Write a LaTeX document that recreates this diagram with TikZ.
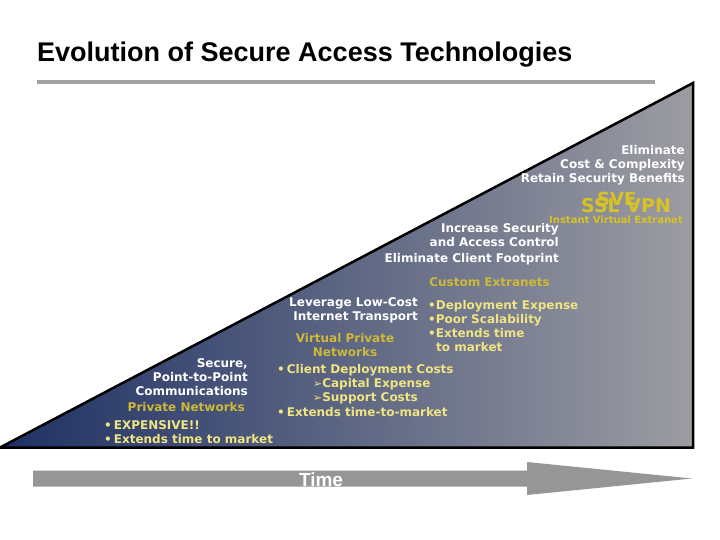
\documentclass[tikz,border=0pt]{standalone}
\usepackage{fontspec}
\setmainfont{DejaVu Sans}
\newfontfamily\titlefont{Liberation Sans}
\definecolor{navy}{RGB}{30,48,100}
\definecolor{grayR}{RGB}{156,156,162}
\definecolor{paley}{RGB}{240,228,130}
\definecolor{musty}{RGB}{205,185,55}
\definecolor{logoy}{RGB}{215,195,35}
\definecolor{arrowgray}{RGB}{150,150,150}
\definecolor{linegray}{RGB}{162,162,162}
\begin{document}
\begin{tikzpicture}[x=1pt,y=-1pt,
  txt/.style={inner sep=0pt,font=\bfseries\fontsize{12}{14}\selectfont},
  wt/.style={txt,text=white},
  yl/.style={txt,text=paley},
  ym/.style={txt,text=musty}]
\useasboundingbox (0,0) rectangle (720,540);
% title
\node[anchor=base west,inner sep=0pt,font=\titlefont\bfseries\fontsize{27}{30}\selectfont] (title) at (37,62) {Evolution of Secure Access Technologies};
\draw[linegray,line width=4pt] (37,82) -- (655,82);
% triangle
\coordinate (bl) at (0,447.5);
\coordinate (ap) at (693,83);
\coordinate (br) at (693,447.5);
\shade[left color=navy,right color=grayR] (bl) -- (ap) -- (br) -- cycle;
\draw[line width=2.5pt,line join=miter] (bl) -- (ap) -- (br) -- cycle;
% block 1
\node[wt,anchor=base east] (e1) at (685,155) {Eliminate};
\node[wt,anchor=base east] (e2) at (685,169) {Cost \& Complexity};
\node[wt,anchor=base east] (e3) at (685,183) {Retain Security Benefits};
% logo
\node[inner sep=0pt,anchor=base west,text=logoy,font=\bfseries\fontsize{19}{19}\selectfont] (ssl) at (581,213) {SSL VPN};
\node[inner sep=0pt,anchor=base west,text=logoy,font=\bfseries\fontsize{18}{18}\selectfont] (sve) at (597,206) {SVE};
\node[inner sep=0pt,anchor=base east,text=logoy,font=\bfseries\fontsize{10}{10}\selectfont] (ive) at (683,223) {Instant Virtual Extranet};
% block 2
\node[wt,anchor=base east] (i1) at (559,233) {Increase Security};
\node[wt,anchor=base east] (i2) at (559,247) {and Access Control};
\node[wt,anchor=base east] (i3) at (559,262) {Eliminate Client Footprint};
\node[ym,anchor=base] (cx) at (489.5,286) {Custom Extranets};
% block 3
\node[wt,anchor=base east] (l1) at (418,306) {Leverage Low-Cost};
\node[wt,anchor=base east] (l2) at (418,320) {Internet Transport};
\node[yl,anchor=base west] (d1) at (428,309) {•Deployment Expense};
\node[yl,anchor=base west] (d2) at (428,323) {•Poor Scalability};
\node[yl,anchor=base west] (d3) at (428,337) {•Extends time};
\node[yl,anchor=base west] (d4) at (436,351) {to market};
\node[ym,anchor=base] (v1) at (345,342) {Virtual Private};
\node[ym,anchor=base] (v2) at (345,356) {Networks};
\node[yl,anchor=base west] (c1) at (277,373) {•\,Client Deployment Costs};
\node[yl,anchor=base west] (c2) at (313,387) {\scalebox{0.9}{➢}Capital Expense};
\node[yl,anchor=base west] (c3) at (313,401) {\scalebox{0.9}{➢}Support Costs};
\node[yl,anchor=base west] (c4) at (277,416) {•\,Extends time-to-market};
% block 4
\node[wt,anchor=base east] (s1) at (248,367) {Secure,};
\node[wt,anchor=base east] (s2) at (248,381) {Point-to-Point};
\node[wt,anchor=base east] (s3) at (248,395) {Communications};
\node[ym,anchor=base east] (pn) at (245,411) {Private Networks};
\node[yl,anchor=base west] (x1) at (104,429) {•\,EXPENSIVE!!};
\node[yl,anchor=base west] (x2) at (104,443) {•\,Extends time to market};
% time arrow
\fill[arrowgray] (33,470.5) -- (527,470.5) -- (527,462) -- (692,478.5) -- (527,495) -- (527,486.5) -- (33,486.5) -- cycle;
\node[inner sep=0pt,anchor=base,text=white,font=\titlefont\bfseries\fontsize{19}{19}\selectfont] (time) at (321,486) {Time};
\end{tikzpicture}
\end{document}
